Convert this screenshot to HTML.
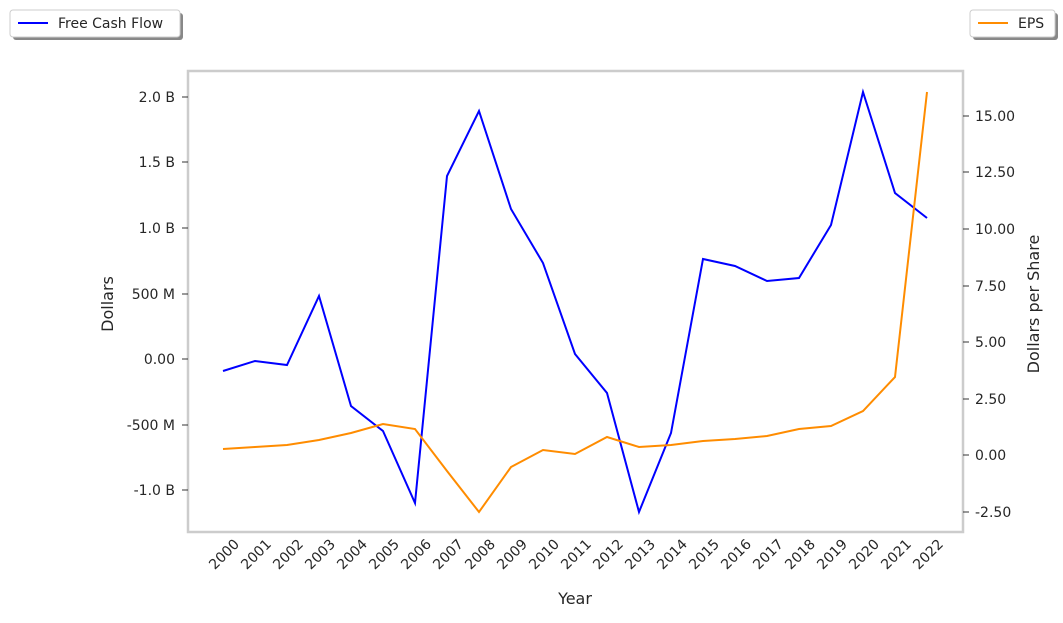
<!DOCTYPE html>
<html><head><meta charset="utf-8"><style>
body{margin:0;background:#fff;}
svg text{font-family:"DejaVu Sans","Liberation Sans",sans-serif;fill:#262626;}
</style></head><body>
<svg width="1063" height="618" xmlns="http://www.w3.org/2000/svg">
<rect width="1063" height="618" fill="#fff"/>
<rect x="188" y="71" width="775" height="461" fill="none" stroke="#cccccc" stroke-width="2.5"/>
<g font-size="14" text-anchor="end">
<line x1="182" y1="97" x2="188" y2="97" stroke="#333"/><text x="175" y="102">2.0 B</text>
<line x1="182" y1="162" x2="188" y2="162" stroke="#333"/><text x="175" y="167">1.5 B</text>
<line x1="182" y1="228" x2="188" y2="228" stroke="#333"/><text x="175" y="233">1.0 B</text>
<line x1="182" y1="294" x2="188" y2="294" stroke="#333"/><text x="175" y="299">500 M</text>
<line x1="182" y1="359" x2="188" y2="359" stroke="#333"/><text x="175" y="364">0.00</text>
<line x1="182" y1="425" x2="188" y2="425" stroke="#333"/><text x="175" y="430">-500 M</text>
<line x1="182" y1="490" x2="188" y2="490" stroke="#333"/><text x="175" y="495">-1.0 B</text>
</g>
<g font-size="14" text-anchor="start">
<line x1="963" y1="116" x2="969" y2="116" stroke="#333"/><text x="975" y="121">15.00</text>
<line x1="963" y1="172" x2="969" y2="172" stroke="#333"/><text x="975" y="177">12.50</text>
<line x1="963" y1="229" x2="969" y2="229" stroke="#333"/><text x="975" y="234">10.00</text>
<line x1="963" y1="286" x2="969" y2="286" stroke="#333"/><text x="975" y="291">7.50</text>
<line x1="963" y1="342" x2="969" y2="342" stroke="#333"/><text x="975" y="347">5.00</text>
<line x1="963" y1="399" x2="969" y2="399" stroke="#333"/><text x="975" y="404">2.50</text>
<line x1="963" y1="455" x2="969" y2="455" stroke="#333"/><text x="975" y="460">0.00</text>
<line x1="963" y1="512" x2="969" y2="512" stroke="#333"/><text x="975" y="517">-2.50</text>
</g>
<text x="113" y="304" font-size="16" text-anchor="middle" transform="rotate(-90 113 304)">Dollars</text>
<text x="1039" y="304" font-size="16" text-anchor="middle" transform="rotate(-90 1039 304)">Dollars per Share</text>
<text x="575" y="604" font-size="16" text-anchor="middle">Year</text>
<g font-size="14" text-anchor="end" id="xt"></g>
<polyline fill="none" stroke="#0000ff" stroke-width="2" points="223,371 255,361 287,365 319,296 351,406 383,431 415,503 447,176 479,111 511,209 543,263 575,354 607,393 639,512 671,433 703,259 735,266 767,281 799,278 831,225 863,92 895,193 927,218"/>
<polyline fill="none" stroke="#ff8c00" stroke-width="2" points="223,449 255,447 287,445 319,440 351,433 383,424 415,429 447,471 479,512 511,467 543,450 575,454 607,437 639,447 671,445 703,441 735,439 767,436 799,429 831,426 863,411 895,377 927,92"/>
<g>
<rect x="13" y="13" width="170" height="27" rx="3" fill="#888"/>
<rect x="10" y="10" width="170" height="27" rx="3" fill="#fff" stroke="#ccc"/>
<line x1="18" y1="23" x2="48" y2="23" stroke="#0000ff" stroke-width="2"/>
<text x="58" y="28" font-size="14">Free Cash Flow</text>
<rect x="973" y="13" width="85" height="27" rx="3" fill="#888"/>
<rect x="970" y="10" width="85" height="27" rx="3" fill="#fff" stroke="#ccc"/>
<line x1="978" y1="23" x2="1008" y2="23" stroke="#ff8c00" stroke-width="2"/>
<text x="1018" y="28" font-size="14">EPS</text>
</g>
<g font-size="14" text-anchor="end">
<text transform="translate(240,545) rotate(-45)">2000</text>
<text transform="translate(272,545) rotate(-45)">2001</text>
<text transform="translate(304,545) rotate(-45)">2002</text>
<text transform="translate(336,545) rotate(-45)">2003</text>
<text transform="translate(368,545) rotate(-45)">2004</text>
<text transform="translate(400,545) rotate(-45)">2005</text>
<text transform="translate(432,545) rotate(-45)">2006</text>
<text transform="translate(464,545) rotate(-45)">2007</text>
<text transform="translate(496,545) rotate(-45)">2008</text>
<text transform="translate(528,545) rotate(-45)">2009</text>
<text transform="translate(560,545) rotate(-45)">2010</text>
<text transform="translate(592,545) rotate(-45)">2011</text>
<text transform="translate(624,545) rotate(-45)">2012</text>
<text transform="translate(656,545) rotate(-45)">2013</text>
<text transform="translate(688,545) rotate(-45)">2014</text>
<text transform="translate(720,545) rotate(-45)">2015</text>
<text transform="translate(752,545) rotate(-45)">2016</text>
<text transform="translate(784,545) rotate(-45)">2017</text>
<text transform="translate(816,545) rotate(-45)">2018</text>
<text transform="translate(848,545) rotate(-45)">2019</text>
<text transform="translate(880,545) rotate(-45)">2020</text>
<text transform="translate(912,545) rotate(-45)">2021</text>
<text transform="translate(944,545) rotate(-45)">2022</text>
</g>
</svg>
</body></html>
